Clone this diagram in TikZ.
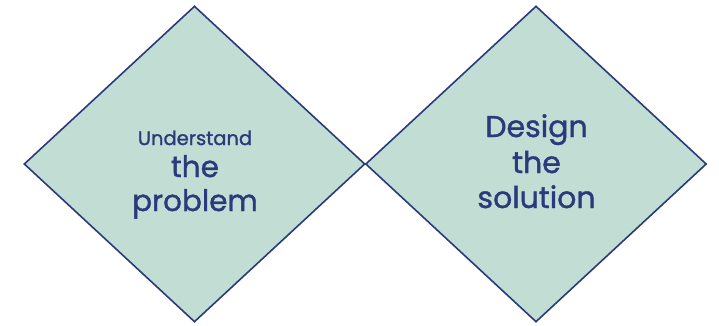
\documentclass[tikz,border=0pt]{standalone}
\usepackage{fontspec}
\setmainfont{Poppins}
\newfontfamily\wordfont[FakeBold=1.2]{Poppins}
\usetikzlibrary{shapes.geometric}
\definecolor{mint}{HTML}{C2DDD4}
\definecolor{navy}{HTML}{2A3A7A}

\begin{document}
\begin{tikzpicture}[x=1pt,y=-1pt,
                    box/.style={diamond,draw=navy,fill=mint,line width=1.6pt,inner sep=0pt,
                                minimum width=341pt,minimum height=316pt},
                    word/.style={anchor=base,text=navy,inner sep=0pt,font=\wordfont\fontsize{#1}{#1}\selectfont}]
  \useasboundingbox (0,0) rectangle (719,325);
  \node[box] (understand) at (194.5,164) {};
  \node[box] (design) at (536,164) {};
  % left diamond
  \node[word=19.5] (l1) at (195,145) {Understand};
  \node[word=29.5] (l2) at (195,177) {the};
  \node[word=29.5] (l3) at (195,211) {problem};
  % right diamond
  \node[word=30] (r1) at (536.5,137) {Design};
  \node[word=30] (r2) at (536.5,173) {the};
  \node[word=30] (r3) at (536.5,208) {solution};
\end{tikzpicture}
\end{document}
